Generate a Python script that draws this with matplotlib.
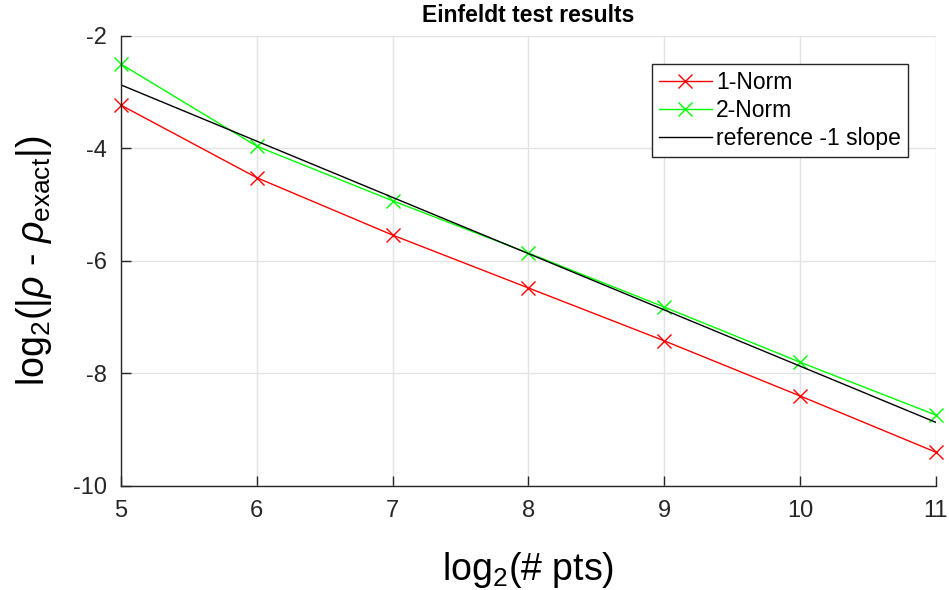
import numpy as np
import matplotlib
matplotlib.use("Agg")
import matplotlib.pyplot as plt

plt.rcParams['font.family'] = ['Liberation Sans', 'DejaVu Sans']
plt.rcParams['mathtext.fontset'] = 'custom'
plt.rcParams['mathtext.rm'] = 'Liberation Sans'
plt.rcParams['mathtext.it'] = 'Liberation Sans:italic'
plt.rcParams['axes.unicode_minus'] = False

# log2 of number of points
n_pts = [5, 6, 7, 8, 9, 10, 11]
# log2 of error norms
err_1norm = [-3.23, -4.52, -5.54, -6.48, -7.42, -8.40, -9.40]
err_2norm = [-2.50, -3.96, -4.93, -5.86, -6.82, -7.80, -8.74]
# reference line with slope -1
ref_x = [5, 11]
ref_y = [-2.87, -8.87]

fig = plt.figure(figsize=(9.49, 5.90), dpi=100)
ax = fig.add_axes([0.1275, 0.1763, 0.8588, 0.7627])

ax.plot(n_pts, err_1norm, color='#ff0000', marker='x', markersize=10, linewidth=1,
        label='1-Norm', clip_on=False)
ax.plot(n_pts, err_2norm, color='#00ff00', marker='x', markersize=10, linewidth=1,
        label='2-Norm', clip_on=False)
ax.plot(ref_x, ref_y, color='black', linewidth=1, label='reference -1 slope')

ax.set_xlim(5, 11)
ax.set_ylim(-10, -2)
ax.set_xticks(range(5, 12))
ax.set_yticks([-10, -8, -6, -4, -2])
ax.grid(True, color='#e3e3e3', linewidth=1)
ax.set_axisbelow(True)
for s in ['top', 'right']:
    ax.spines[s].set_visible(False)
for s in ['left', 'bottom']:
    ax.spines[s].set_color('#262626')
    ax.spines[s].set_linewidth(1)
ax.tick_params(direction='in', length=7, width=1, colors='#262626', labelsize=17, pad=10)

ax.set_title('Einfeldt test results', fontsize=16.5, fontweight='bold', pad=10)
ax.set_xlabel('log$_2$(# pts)', fontsize=27, labelpad=20)
ax.set_ylabel(r'log$_2$(|$\rho$ - $\rho_{\rm exact}$|)', fontsize=27, labelpad=14)

leg = ax.legend(loc='upper right', bbox_to_anchor=(0.9656, 0.938), fontsize=16.5, fancybox=False,
                edgecolor='#262626', framealpha=1, handlelength=2.3, handletextpad=0.2,
                borderpad=0.3, labelspacing=0.22, borderaxespad=0)
leg.get_frame().set_linewidth(1)

fig.savefig('out.png', dpi=100)
